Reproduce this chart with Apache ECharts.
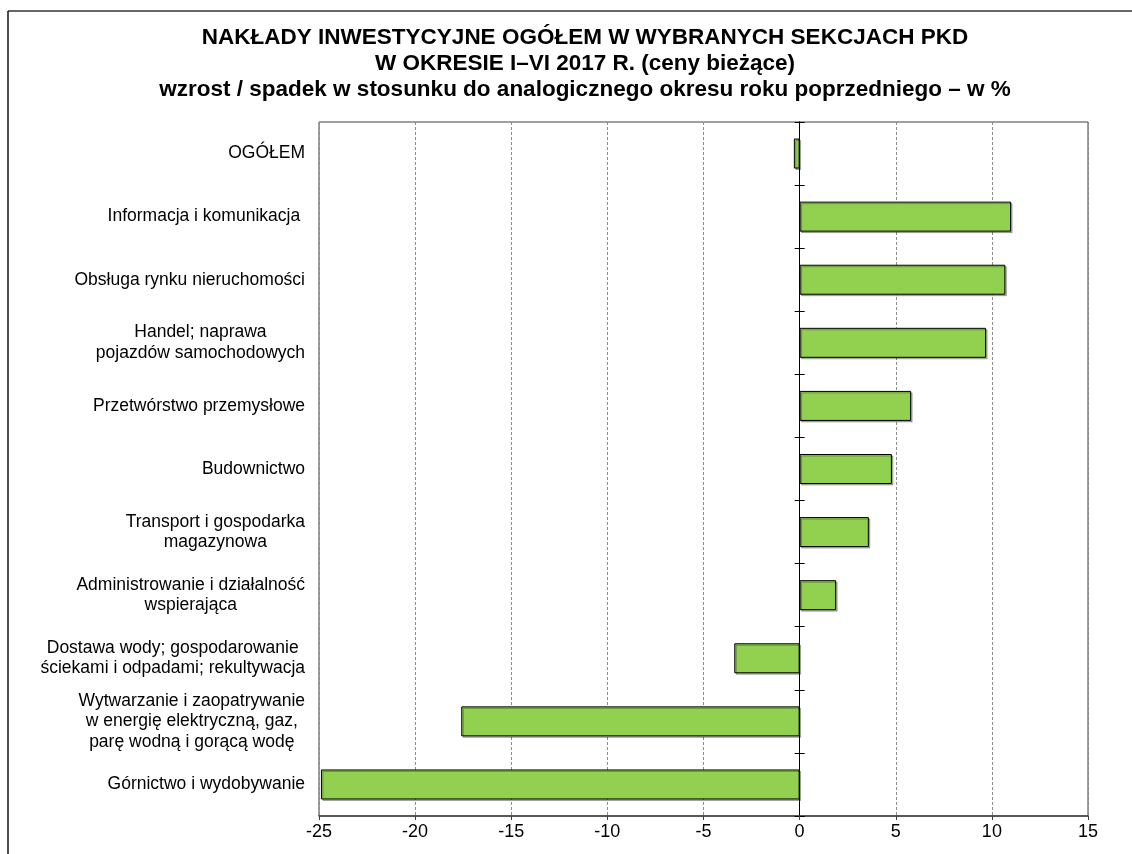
<!DOCTYPE html>
<html>
<head>
<meta charset="utf-8">
<title>Nakłady inwestycyjne I–VI 2017</title>
<script src="https://cdn.jsdelivr.net/npm/echarts@6/dist/echarts.min.js"></script>
<style>
  html, body { margin: 0; padding: 0; background: #fff; }
  #chart { width: 1132px; height: 854px; }
</style>
</head>
<body>
<div id="chart"></div>
<script>
// Sections of PKD, top to bottom
const categories = [
  'OGÓŁEM',
  'Informacja i komunikacja ',
  'Obsługa rynku nieruchomości',
  'Handel; naprawa\npojazdów samochodowych',
  'Przetwórstwo przemysłowe',
  'Budownictwo',
  'Transport i gospodarka\nmagazynowa',
  'Administrowanie i działalność\nwspierająca',
  'Dostawa wody; gospodarowanie\nściekami i odpadami; rekultywacja',
  'Wytwarzanie i zaopatrywanie\nw energię elektryczną, gaz,\nparę wodną i gorącą wodę',
  'Górnictwo i wydobywanie'
];

// Change versus the same period of the previous year, in %
const values = [-0.3, 11.0, 10.7, 9.7, 5.8, 4.8, 3.6, 1.9, -3.4, -17.6, -24.9];

// Value axis range and step
const xMin = -25;
const xMax = 15;
const xStep = 5;

const titleLines = [
  'NAKŁADY INWESTYCYJNE OGÓŁEM W WYBRANYCH SEKCJACH PKD',
  'W OKRESIE I–VI 2017 R. (ceny bieżące)',
  'wzrost / spadek w stosunku do analogicznego okresu roku poprzedniego – w %'
];

const FONT = 'Liberation Sans, Arial, Helvetica, sans-serif';

const chart = echarts.init(document.getElementById('chart'), null, { renderer: 'canvas' });

// category axis sitting on x = 0; two of them (outer and inner ticks) make the ticks cross the line
const zeroAxis = (inside, onAxis) => ({
  type: 'category',
  data: categories,
  inverse: true,
  position: 'left',
  axisLine: { show: true, onZero: true, onZeroAxisIndex: onAxis, lineStyle: { color: '#000', width: 1 } },
  axisTick: { show: true, inside: inside, length: 5, lineStyle: { color: '#000', width: 1 } },
  axisLabel: { show: false },
  splitLine: { show: false }
});

const option = {
  backgroundColor: '#fff',
  animation: false,
  grid: {
    left: 319, top: 122, width: 769, height: 694,
    show: true, borderColor: '#404040', borderWidth: 1, backgroundColor: 'transparent'
  },
  xAxis: [
    {
      type: 'value',
      min: xMin, max: xMax, interval: xStep,
      position: 'bottom',
      axisLine: { show: true, onZero: false, lineStyle: { color: '#404040', width: 1.5 } },
      axisTick: { show: true, length: 4, lineStyle: { color: '#404040' } },
      axisLabel: { color: '#000', fontFamily: FONT, fontSize: 18, margin: 7 },
      splitLine: { show: true, lineStyle: { color: '#8c8c8c', type: [3, 2], width: 1 } }
    },
    {
      // same scale, only used as the zero reference for the second tick axis
      type: 'value',
      min: xMin, max: xMax, interval: xStep,
      position: 'top',
      axisLine: { show: false, onZero: false },
      axisTick: { show: false },
      axisLabel: { show: false },
      splitLine: { show: false }
    }
  ],
  yAxis: [
    {
      type: 'category',
      data: categories,
      inverse: true,
      position: 'left',
      axisLine: { show: false, onZero: false },
      axisTick: { show: false },
      splitLine: { show: false },
      axisLabel: {
        margin: 14,
        color: '#000',
        fontFamily: FONT,
        fontSize: 17.5,
        lineHeight: 20.5,
        formatter: (v) => v.split('\n').map((l) => '{c|' + l + '}').join('\n'),
        rich: {
          c: { align: 'center', fontFamily: FONT, fontSize: 17.5, lineHeight: 20.5, color: '#000' }
        }
      }
    },
    zeroAxis(false, 0),
    zeroAxis(true, 1)
  ],
  series: [
    {
      type: 'bar',
      xAxisIndex: 0,
      yAxisIndex: 0,
      data: values,
      barWidth: 30,
      itemStyle: {
        color: '#92D050',
        borderColor: '#000',
        borderWidth: 1,
        shadowColor: 'rgba(0,0,0,0.28)',
        shadowOffsetX: 1.5,
        shadowOffsetY: 1.5,
        shadowBlur: 0
      },
      z: 1
    }
  ],
  graphic: [
    // frame along the top and left edges
    { type: 'line', shape: { x1: 8, y1: 11, x2: 1132, y2: 11 }, style: { stroke: '#333', lineWidth: 1.5 }, silent: true },
    { type: 'line', shape: { x1: 8, y1: 11, x2: 8, y2: 854 }, style: { stroke: '#111', lineWidth: 1.5 }, silent: true },
    ...titleLines.map((t, i) => ({
      type: 'text',
      x: 585,
      y: 38 + i * 26,
      style: {
        text: t,
        textAlign: 'center',
        textVerticalAlign: 'middle',
        font: 'bold 22.5px ' + FONT,
        fill: '#000'
      },
      silent: true
    }))
  ]
};

chart.setOption(option);
</script>
</body>
</html>
